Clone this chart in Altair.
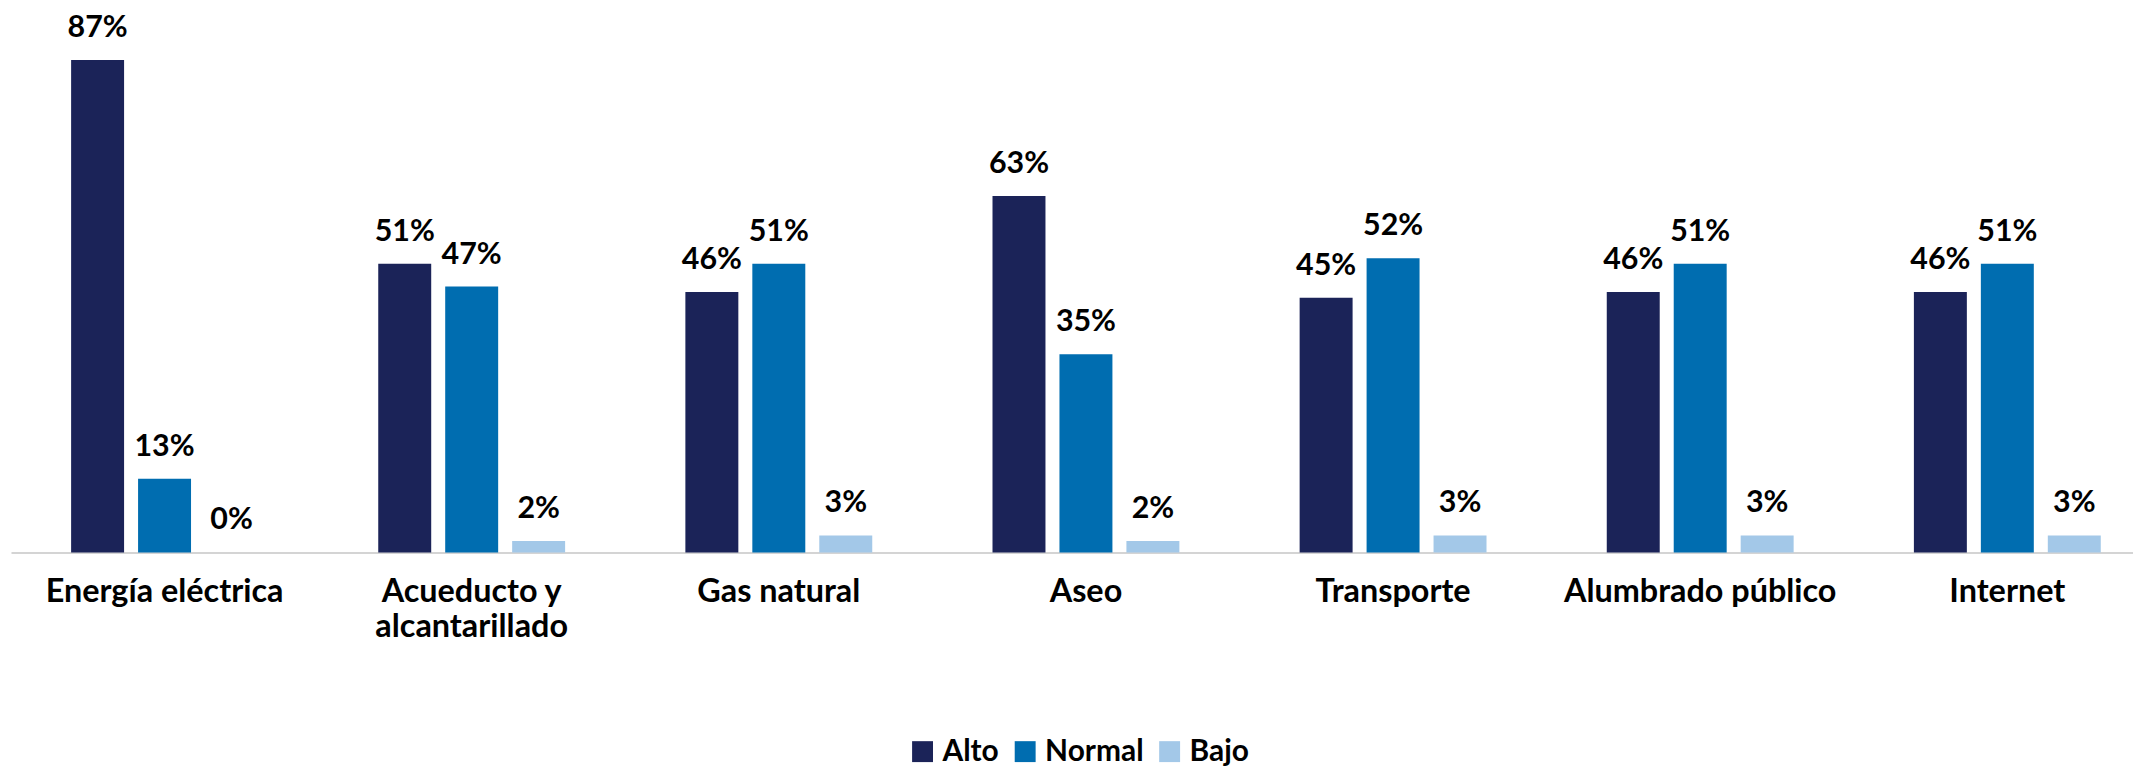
import altair as alt
import pandas as pd

categories = ["Energía eléctrica", "Acueducto y alcantarillado", "Gas natural", "Aseo",
              "Transporte", "Alumbrado público", "Internet"]
levels = ["Alto", "Normal", "Bajo"]
alto = [87, 51, 46, 63, 45, 46, 46]
normal = [13, 47, 51, 35, 52, 51, 51]
bajo = [0, 2, 3, 2, 3, 3, 3]
colors = ["#1b2358", "#006db0", "#a3c8e8"]

rows = []
for i, c in enumerate(categories):
    for lvl, vals in zip(levels, [alto, normal, bajo]):
        rows.append({"cat": c, "nivel": lvl, "valor": vals[i], "label": f"{vals[i]}%"})
df = pd.DataFrame(rows)

FONT = "Lato"

x = alt.X(
    "cat:N", sort=categories,
    scale=alt.Scale(range=[0, 2158], paddingInner=0, paddingOuter=0),
    axis=alt.Axis(
        title=None, labelAngle=0, labelFont=FONT, labelFontSize=32.5, labelFontWeight="bold",
        labelColor="#000000", labelPadding=49, labelBaseline="alphabetic", ticks=False,
        tickSize=0, domainColor="#d4d4d4", domainWidth=2, labelLineHeight=35, labelLimit=0,
        labelExpr="datum.value == 'Acueducto y alcantarillado' ? ['Acueducto y', 'alcantarillado'] : datum.label",
    ),
)
xo = alt.XOffset("nivel:N", sort=levels, scale=alt.Scale(paddingInner=0.209, paddingOuter=0.898))
y = alt.Y("valor:Q", scale=alt.Scale(domain=[0, 95.95]), axis=None)
color = alt.Color(
    "nivel:N", sort=levels,
    scale=alt.Scale(domain=levels, range=colors),
    legend=alt.Legend(
        title=None, orient="none", direction="horizontal", legendX=900, legendY=730,
        symbolType="square", symbolSize=441, symbolStrokeWidth=0, symbolOpacity=1,
        labelFont=FONT, labelFontSize=30, labelFontWeight="bold", labelColor="#000000",
        labelOffset=5, columnPadding=11,
    ),
)

bars = alt.Chart(df).mark_bar().encode(x=x, xOffset=xo, y=y, color=color)
text = alt.Chart(df).mark_text(
    font=FONT, fontSize=30.5, fontWeight="bold", color="#000000", baseline="alphabetic", dy=-23
).encode(x=x, xOffset=xo, y=y, text="label:N")

chart = alt.layer(bars, text).properties(
    width=2130, height=545,
    autosize=alt.AutoSizeParams(type="none"),
    padding={"left": 3, "top": 0, "right": 0, "bottom": 215},
).configure_view(stroke=None)

chart.save("out.html", embed_options={"renderer": "svg", "actions": False})
